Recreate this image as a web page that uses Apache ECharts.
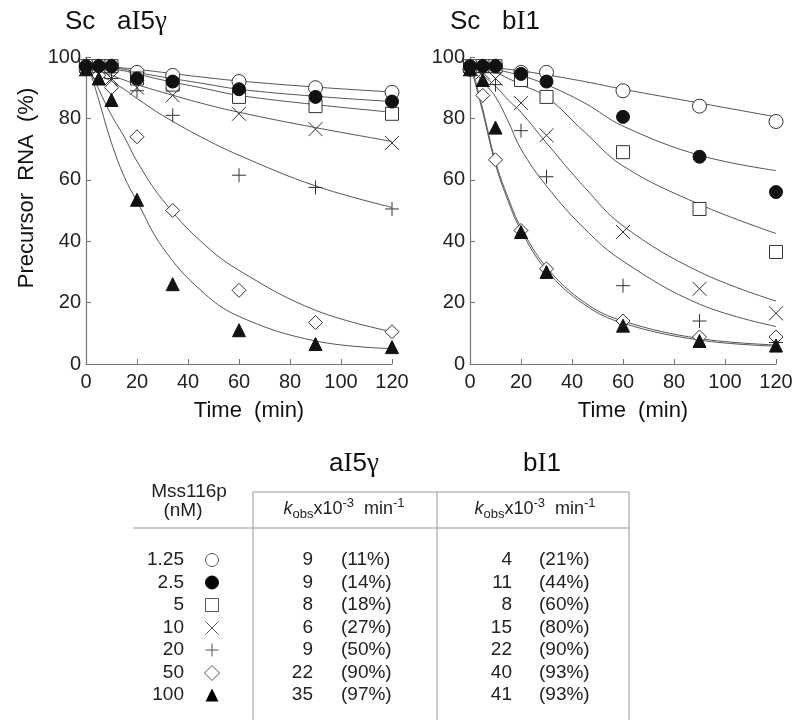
<!DOCTYPE html>
<html><head><meta charset="utf-8">
<script src="https://cdn.jsdelivr.net/npm/echarts@6/dist/echarts.min.js"></script>
<style>html,body{margin:0;padding:0;background:#fff}#c{width:800px;height:727px}</style>
</head><body><div id="c"></div>
<script>
// ---- data ----
const timesA = [0, 5, 10, 20, 34, 60, 90, 120];
const timesB = [0, 5, 10, 20, 30, 60, 90, 120];
const fitTimes = [0, 5, 10, 15, 20, 30, 45, 60, 90, 120];
const concLabels = ['1.25', '2.5', '5', '10', '20', '50', '100'];

// aI5γ measured points
const a_c125 = [97, 97, 97, 95, 94, 92, 90, 88.5];
const a_c25  = [97, 97, 97, 93, 92, 89.5, 87, 85.5];
const a_c5   = [97, 97, 97, 93, 91, 87, 84, 81.5];
const a_c10  = [96, 95, 93, 90, 87.5, 81.5, 76.5, 72];
const a_c20  = [96, 94, 93, 89, 81, 61.5, 57.5, 50.5];
const a_c50  = [96, 94, 90, 74, 50, 24, 13.5, 10.5];
const a_c100 = [96, 93, 86, 53.5, 26, 11, 6.5, 5.5];
// aI5γ fitted curves (read at fitTimes)
const aFit_c125 = [97.5, 97.2, 96.8, 96.4, 96, 95, 93.5, 92.2, 90.2, 88.6];
const aFit_c25  = [97.5, 97, 96.5, 96, 95, 93.5, 91.5, 89.5, 87.2, 85.5];
const aFit_c5   = [97.5, 97, 96, 95.5, 94.5, 92.5, 90, 87.5, 84.5, 82];
const aFit_c10  = [97, 95.5, 94, 92.5, 91, 88.5, 85, 82, 77, 72.5];
const aFit_c20  = [97, 94.5, 92, 89.5, 86.5, 81, 74, 68, 58, 51];
const aFit_c50  = [99, 89.5, 81, 74, 66, 53.5, 40, 30.5, 17.5, 10.5];
const aFit_c100 = [100, 86, 72, 61, 53, 38, 24, 15.5, 7.5, 5];

// bI1 measured points
const b_c125 = [96, 97, 97, 95, 95, 89, 84, 79];
const b_c25  = [97, 97, 97, 94.5, 92, 80.5, 67.5, 56];
const b_c5   = [97, 97, 97, 92.5, 87, 69, 50.5, 36.5];
const b_c10  = [96, 95, 93, 85, 74.5, 43, 24.5, 16.5];
const b_c20  = [96, 95, 91, 76, 61, 25.5, 14, 7];
const b_c50  = [96, 87.5, 66.5, 43.5, 31, 14, 8.8, 8.8];
const b_c100 = [96, 92.5, 77, 43, 30, 12.5, 7.5, 6];
// bI1 fitted curves
const bFit_c125 = [97, 96.8, 96.5, 96, 95.5, 94.2, 92, 89.5, 85, 80.5];
const bFit_c25  = [97, 96.5, 96, 95, 94, 91, 85, 77.5, 68, 63];
const bFit_c5   = [97, 96, 95, 93, 91, 87, 75.5, 64.5, 52, 42.5];
const bFit_c10  = [97, 94, 90.5, 86, 82, 72, 57.5, 45, 30, 20.5];
const bFit_c20  = [97, 92, 87, 79, 70, 58, 44, 33.5, 19.5, 12.2];
const bFit_c50  = [99, 83, 66, 54, 44.5, 31.5, 20, 14, 8.3, 6.2];
const bFit_c100 = [98, 82, 65, 53, 43.5, 30.5, 19.3, 13.3, 7.8, 5.8];

// table values
const kA   = ['9', '9', '8', '6', '9', '22', '35'];
const pctA = ['(11%)', '(14%)', '(18%)', '(27%)', '(50%)', '(90%)', '(97%)'];
const kB   = ['4', '11', '8', '15', '22', '40', '41'];
const pctB = ['(21%)', '(44%)', '(60%)', '(80%)', '(90%)', '(93%)', '(93%)'];

// ---- styles ----
const INK = '#333';
const AX = '#777';
const SANS = 'Liberation Sans, Arial, sans-serif';
const SERIF = 'Liberation Serif, Times New Roman, serif';
const markers = [
  {symbol: 'circle', fill: '#fff', size: 14},
  {symbol: 'circle', fill: '#111', size: 13},
  {symbol: 'rect', fill: '#fff', size: 13},
  {symbol: 'path://M0,0L10,10M10,0L0,10', fill: 'transparent', size: 14},
  {symbol: 'path://M5,0L5,10M0,5L10,5', fill: 'transparent', size: 14},
  {symbol: 'diamond', fill: '#fff', size: 14},
  {symbol: 'triangle', fill: '#111', size: 13}
];

const aPts = [a_c125, a_c25, a_c5, a_c10, a_c20, a_c50, a_c100];
const aFits = [aFit_c125, aFit_c25, aFit_c5, aFit_c10, aFit_c20, aFit_c50, aFit_c100];
const bPts = [b_c125, b_c25, b_c5, b_c10, b_c20, b_c50, b_c100];
const bFits = [bFit_c125, bFit_c25, bFit_c5, bFit_c10, bFit_c20, bFit_c50, bFit_c100];

function pairs(xs, ys) { return xs.map((x, i) => [x, ys[i]]); }

const series = [];
[[aFits, aPts, timesA, 0], [bFits, bPts, timesB, 1]].forEach(([fits, pts, ts, gi]) => {
  fits.forEach((f) => {
    series.push({type: 'line', xAxisIndex: gi, yAxisIndex: gi, data: pairs(fitTimes, f),
      smooth: 0.4, showSymbol: false, silent: true, z: 1,
      lineStyle: {color: '#555', width: 1}});
  });
  pts.forEach((p, i) => {
    const m = markers[i];
    series.push({type: 'scatter', xAxisIndex: gi, yAxisIndex: gi, data: pairs(ts, p),
      symbol: m.symbol, symbolSize: m.size, z: 2 + (i === 1 ? 5 : 0),
      itemStyle: {color: m.fill, borderColor: i === 1 || i === 6 ? '#111' : INK, borderWidth: 1, opacity: 1}});
  });
});

function xAxis(gi) {
  return {gridIndex: gi, type: 'value', min: 0, max: 120, interval: 20,
    axisLine: {lineStyle: {color: AX, width: 1.2}},
    axisTick: {inside: true, length: 5, lineStyle: {color: AX}},
    axisLabel: {fontSize: 20, color: '#222', margin: 8, fontFamily: SANS},
    splitLine: {show: false}};
}
function yAxis(gi) {
  return {gridIndex: gi, type: 'value', min: 0, max: 100, interval: 20,
    axisLine: {show: true, lineStyle: {color: AX, width: 1.2}},
    axisTick: {inside: true, length: 5, lineStyle: {color: AX}},
    axisLabel: {fontSize: 20, color: '#222', margin: 5, fontFamily: SANS},
    splitLine: {show: false}};
}

// ---- graphics: titles, axis names, table ----
const G = [];
const LC = '#999';
function hline(x1, x2, y) { G.push({type: 'line', shape: {x1, y1: y, x2, y2: y}, style: {stroke: LC, lineWidth: 1}}); }
function vline(x, y1, y2) { G.push({type: 'line', shape: {x1: x, y1, x2: x, y2}, style: {stroke: LC, lineWidth: 1}}); }
function txt(x, y, text, align, size, extra) {
  G.push(Object.assign({type: 'text', x, y, style: {text, fontSize: size || 18, fontFamily: SANS, fill: '#222',
    textAlign: align || 'left', textVerticalAlign: 'middle'}}, extra || {}));
}

// axis names
G.push({type: 'text', x: 27, y: 188, rotation: Math.PI / 2,
  style: {text: 'Precursor  RNA  (%)', fontSize: 22, fontFamily: SANS, fill: '#111', textAlign: 'center', textVerticalAlign: 'middle'}});
txt(249, 411, 'Time  (min)', 'center', 22, {});
txt(633, 411, 'Time  (min)', 'center', 22, {});
G[G.length - 1].style.fill = '#111'; G[G.length - 2].style.fill = '#111';

hline(133, 629, 528);
hline(253, 629, 492);
vline(253, 492, 720);
vline(437, 492, 720);
vline(629, 492, 720);

const titleRich = {
  s: {fontSize: 26, fontFamily: SANS, fill: '#111'},
  r: {fontSize: 27, fontFamily: SERIF, fill: '#111'}
};
G.push({type: 'text', x: 65, y: 22, style: {text: '{s|Sc   a}{r|I}{s|5}{r|γ}', rich: titleRich, textVerticalAlign: 'middle'}});
G.push({type: 'text', x: 450, y: 22, style: {text: '{s|Sc   b}{r|I}{s|1}', rich: titleRich, textVerticalAlign: 'middle'}});
G.push({type: 'text', x: 354, y: 464, style: {text: '{s|a}{r|I}{s|5}{r|γ}', rich: titleRich, textAlign: 'center', textVerticalAlign: 'middle'}});
G.push({type: 'text', x: 542, y: 464, style: {text: '{s|b}{r|I}{s|1}', rich: titleRich, textAlign: 'center', textVerticalAlign: 'middle'}});

const kRich = {
  b: {fontSize: 18, fontFamily: SANS, fill: '#222', lineHeight: 24},
  i: {fontSize: 18, fontFamily: SANS, fontStyle: 'italic', fill: '#222', lineHeight: 24},
  sub: {fontSize: 13, fontFamily: SANS, fill: '#222', lineHeight: 13, verticalAlign: 'bottom'},
  sup: {fontSize: 13, fontFamily: SANS, fill: '#222', lineHeight: 13, verticalAlign: 'top'}
};
const kText = '{i|k}{sub|obs}{b|x10}{sup|-3}{b|  min}{sup|-1}';
G.push({type: 'text', x: 344, y: 509, style: {text: kText, rich: kRich, textAlign: 'center', textVerticalAlign: 'middle'}});
G.push({type: 'text', x: 535, y: 509, style: {text: kText, rich: kRich, textAlign: 'center', textVerticalAlign: 'middle'}});

txt(189, 492, 'Mss116p', 'center', 19);
txt(183, 511, '(nM)', 'center', 19);

const rowY = [560, 582.5, 605, 628, 650, 673, 695];
concLabels.forEach((c, i) => {
  const y = rowY[i];
  txt(184, y, c, 'right', 19);
  txt(313, y, kA[i], 'right', 19);
  txt(341, y, pctA[i], 'left', 19);
  txt(512, y, kB[i], 'right', 19);
  txt(539, y, pctB[i], 'left', 19);
  const sx = 212, s = 6.5;
  const st = {stroke: '#555', lineWidth: 1, fill: '#fff'};
  if (i === 0) G.push({type: 'circle', shape: {cx: sx, cy: y, r: s}, style: st});
  if (i === 1) G.push({type: 'circle', shape: {cx: sx, cy: y, r: s}, style: {fill: '#000', stroke: '#000'}});
  if (i === 2) G.push({type: 'rect', shape: {x: sx - s, y: y - s, width: 2 * s, height: 2 * s}, style: st});
  if (i === 3) { G.push({type: 'line', shape: {x1: sx - s, y1: y - s, x2: sx + s, y2: y + s}, style: st});
                 G.push({type: 'line', shape: {x1: sx - s, y1: y + s, x2: sx + s, y2: y - s}, style: st}); }
  if (i === 4) { G.push({type: 'line', shape: {x1: sx, y1: y - s, x2: sx, y2: y + s}, style: st});
                 G.push({type: 'line', shape: {x1: sx - s, y1: y, x2: sx + s, y2: y}, style: st}); }
  if (i === 5) G.push({type: 'polygon', shape: {points: [[sx, y - s - 1], [sx + s + 1, y], [sx, y + s + 1], [sx - s - 1, y]]}, style: st});
  if (i === 6) G.push({type: 'polygon', shape: {points: [[sx, y - s], [sx + s, y + s], [sx - s, y + s]]}, style: {fill: '#000'}});
});

const chart = echarts.init(document.getElementById('c'), null, {renderer: 'canvas'});
chart.setOption({
  backgroundColor: '#fff',
  animation: false,
  grid: [
    {left: 86, top: 57, width: 306, height: 307},
    {left: 470, top: 57, width: 306, height: 307}
  ],
  xAxis: [xAxis(0), xAxis(1)],
  yAxis: [yAxis(0), yAxis(1)],
  series,
  graphic: G
});
</script></body></html>
